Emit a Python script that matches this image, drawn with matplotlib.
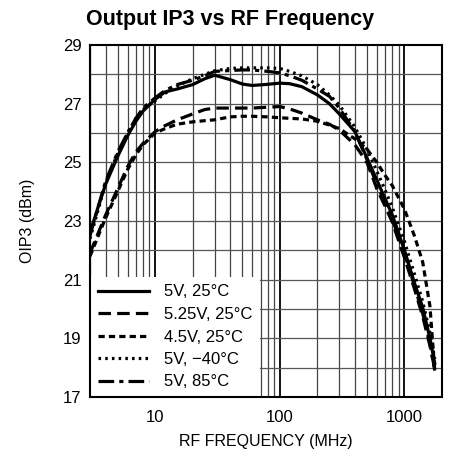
import matplotlib
matplotlib.use("Agg")
import matplotlib.pyplot as plt
from matplotlib import font_manager
from matplotlib.ticker import FixedLocator, NullFormatter, NullLocator

# ---------------- data ----------------
freq_mhz = [3, 3.5, 4, 5, 6, 7, 8, 10, 12, 15, 20, 25, 30, 40, 50, 60, 80, 100,
            120, 150, 200, 250, 300, 400, 500, 600, 700, 800, 1000, 1200, 1400,
            1600, 1750]

oip3_5v_25c = [22.6, 23.5, 24.25, 25.2, 25.9, 26.4, 26.75, 27.15, 27.4, 27.5,
               27.65, 27.85, 27.97, 27.82, 27.67, 27.62, 27.66, 27.7, 27.68,
               27.58, 27.3, 27.0, 26.65, 26.05, 25.15, 24.4, 23.75, 23.2, 22.0,
               20.9, 20.05, 19.0, 18.15]

oip3_525v_25c = [21.9, 22.6, 23.2, 24.1, 24.85, 25.35, 25.65, 26.05, 26.25,
                 26.45, 26.65, 26.8, 26.85, 26.85, 26.85, 26.85, 26.88, 26.9,
                 26.82, 26.68, 26.45, 26.3, 26.1, 25.6, 25.0, 24.1, 23.5, 22.95,
                 21.75, 20.7, 19.75, 18.75, 17.95]

oip3_45v_25c = [21.8, 22.5, 23.1, 24.0, 24.75, 25.25, 25.6, 26.0, 26.15, 26.3,
                26.38, 26.42, 26.45, 26.55, 26.57, 26.57, 26.55, 26.52, 26.5,
                26.48, 26.4, 26.27, 26.15, 25.8, 25.45, 25.0, 24.55, 24.2, 23.4,
                22.5, 21.6, 20.1, 17.9]

oip3_5v_m40c = [22.4, 23.4, 24.3, 25.3, 26.0, 26.5, 26.8, 27.1, 27.35, 27.6,
                27.85, 28.0, 28.12, 28.2, 28.22, 28.22, 28.22, 28.2, 28.1, 27.95,
                27.65, 27.3, 26.95, 26.2, 25.45, 24.7, 24.05, 23.45, 22.3, 21.2,
                20.25, 19.2, 18.3]

oip3_5v_85c = [22.5, 23.5, 24.35, 25.35, 26.0, 26.5, 26.85, 27.2, 27.45, 27.65,
               27.8, 27.95, 28.1, 28.13, 28.15, 28.15, 28.1, 28.05, 27.95, 27.8,
               27.5, 27.25, 26.85, 26.05, 25.1, 24.25, 23.6, 23.05, 21.9, 20.8,
               19.85, 18.85, 17.9]

labels = ["5V, 25°C", "5.25V, 25°C", "4.5V, 25°C", "5V, \u221240°C", "5V, 85°C"]
y_ticks = [17, 19, 21, 23, 25, 27, 29]
x_ticks = [10, 100, 1000]
x_tick_labels = ["10", "100", "1000"]

# ---------------- fonts ----------------
names = {f.name for f in font_manager.fontManager.ttflist}
fam = "Liberation Sans Narrow" if "Liberation Sans Narrow" in names else "Liberation Sans"
plt.rcParams["font.family"] = [fam, "DejaVu Sans"]

W, H, DPI = 451, 457, 100
fig = plt.figure(figsize=(W / DPI, H / DPI), dpi=DPI)
ax = fig.add_axes([90 / W, 1 - 397 / H, (442 - 90) / W, (397 - 45) / H])

ax.set_xscale("log")
ax.set_xlim(3, 2000)
ax.set_ylim(17, 29)

# grid
minor_x = [m * d for d in (1, 10, 100, 1000) for m in range(2, 10)
           if 3 <= m * d <= 2000 and m * d not in (10, 100, 1000)]
for xv in minor_x:
    ax.axvline(xv, color="#444444", lw=0.9, zorder=1)
for xv in x_ticks:
    ax.axvline(xv, color="black", lw=1.3, zorder=1)
for yv in range(18, 29):
    ax.axhline(yv, color="#555555", lw=0.9, zorder=1)

lw = 2.3
styles = [
    dict(ls="-"),
    dict(ls=(0, (3.9, 1.95))),
    dict(ls=(0, (1.95, 1.3))),
    dict(ls=(0, (0.8, 1.3))),
    dict(ls=(0, (4.9, 1.6, 1.3, 1.6))),
]
series = [oip3_5v_25c, oip3_525v_25c, oip3_45v_25c, oip3_5v_m40c, oip3_5v_85c]
for vals, st, lab in zip(series, styles, labels):
    ax.plot(freq_mhz, vals, color="black", lw=lw, label=lab, zorder=3, **st)

ax.xaxis.set_major_locator(FixedLocator(x_ticks))
ax.set_xticklabels(x_tick_labels)
ax.xaxis.set_minor_locator(NullLocator())
ax.xaxis.set_minor_formatter(NullFormatter())
ax.set_yticks(y_ticks)
ax.tick_params(axis="both", length=0, labelsize=12)
ax.tick_params(axis="x", pad=9)
ax.tick_params(axis="y", pad=6)

for sp in ax.spines.values():
    sp.set_linewidth(1.5)
    sp.set_zorder(5)

ax.set_xlabel("RF FREQUENCY (MHz)", fontsize=11.5, labelpad=7)
ax.set_ylabel("OIP3 (dBm)", fontsize=11.5, labelpad=20)

leg = ax.legend(loc="lower left", bbox_to_anchor=(0, 0), borderaxespad=0.0,
                frameon=True, fancybox=False, framealpha=1, edgecolor="none",
                facecolor="white", fontsize=12, handlelength=3.1,
                handletextpad=0.9, labelspacing=0.45, borderpad=0.45)
leg.set_zorder(4)

fig.text(0.51, 1 - 19 / H, "Output IP3 vs RF Frequency", ha="center", va="center",
         fontsize=15.5, fontweight="bold")

fig.savefig("out.png", dpi=DPI)
